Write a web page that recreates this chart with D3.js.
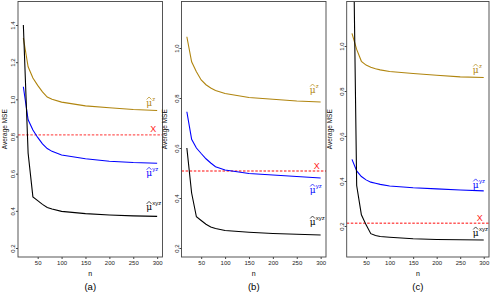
<!DOCTYPE html>
<html><head><meta charset="utf-8">
<script src="https://cdn.jsdelivr.net/npm/d3@7"></script>
<style>
body{margin:0;background:#fff}
text{font-family:"Liberation Sans",Arial,Helvetica,sans-serif}
</style>
</head><body>
<svg id="chart" width="491" height="293"></svg>
<script>
// ---------- data ----------
const nValues = [20, 30, 40, 50, 60, 70, 80, 100, 150, 200, 250, 300];
const xTicks = [50, 100, 150, 200, 250, 300];
const panelNames = ["(a)", "(b)", "(c)"];
const seriesNames = ["z", "yz", "xyz"];

const yTicksA = [0.2, 0.4, 0.6, 0.8, 1.0, 1.2, 1.4];
const yTicksB = [0.2, 0.4, 0.6, 0.8, 1.0];
const yTicksC = [0.2, 0.4, 0.6, 0.8, 1.0];

// panel (a)
const muZ_A   = [1.33, 1.175, 1.115, 1.075, 1.04, 1.012, 1.0, 0.985, 0.965, 0.955, 0.945, 0.94];
const muYZ_A  = [1.068, 0.89, 0.835, 0.795, 0.76, 0.735, 0.72, 0.70, 0.68, 0.667, 0.66, 0.656];
const muXYZ_A = [1.40, 0.71, 0.475, 0.455, 0.435, 0.418, 0.41, 0.397, 0.385, 0.378, 0.373, 0.37];
const refX_A  = 0.809;

// panel (b)
const muZ_B   = [1.045, 0.945, 0.905, 0.872, 0.853, 0.84, 0.83, 0.818, 0.802, 0.795, 0.788, 0.784];
const muYZ_B  = [0.745, 0.635, 0.60, 0.578, 0.557, 0.54, 0.525, 0.512, 0.498, 0.492, 0.486, 0.48];
const muXYZ_B = [0.60, 0.42, 0.325, 0.31, 0.295, 0.284, 0.278, 0.27, 0.263, 0.258, 0.255, 0.252];
const refX_B  = 0.508;

// panel (c)
const muZ_C   = [1.056, 0.985, 0.932, 0.915, 0.906, 0.899, 0.894, 0.887, 0.878, 0.87, 0.863, 0.86];
const muYZ_C  = [0.496, 0.445, 0.42, 0.405, 0.395, 0.39, 0.385, 0.378, 0.37, 0.365, 0.36, 0.356];
const muXYZ_C = [1.95, 0.38, 0.25, 0.205, 0.166, 0.158, 0.153, 0.15, 0.143, 0.14, 0.139, 0.138];
const refX_C  = 0.212;

// ---------- layout ----------
const colors = {z: "#B0850F", yz: "#0000FF", xyz: "#000000"};
const panels = [
  {name: panelNames[0], left: 18, right: 162.5, yDomain: [0.1516, 1.5265], yTicks: yTicksA,
   series: {z: muZ_A, yz: muYZ_A, xyz: muXYZ_A}, ref: refX_A,
   labelDy: {z: -4.5, yz: 13, xyz: -6}, ylabX: 5},
  {name: panelNames[1], left: 181.5, right: 326, yDomain: [0.164, 1.186], yTicks: yTicksB,
   series: {z: muZ_B, yz: muYZ_B, xyz: muXYZ_B}, ref: refX_B,
   labelDy: {z: -9, yz: 15, xyz: -10}, ylabX: 165},
  {name: panelNames[2], left: 346.7, right: 489, yDomain: [0.0622, 1.1978], yTicks: yTicksC,
   series: {z: muZ_C, yz: muYZ_C, xyz: muXYZ_C}, ref: refX_C,
   labelDy: {z: -4.5, yz: -3, xyz: -4}, ylabX: 330}
];
const plotTop = 1.5, plotBottom = 257;
const xDomain = [8.8, 311.2];

const svg = d3.select("#chart");
svg.append("rect").attr("width", 491).attr("height", 293).attr("fill", "#fff");

panels.forEach((p, pi) => {
  const x = d3.scaleLinear().domain(xDomain).range([p.left, p.right]);
  const y = d3.scaleLinear().domain(p.yDomain).range([plotBottom, plotTop]);
  const g = svg.append("g");

  const clipId = "clip" + pi;
  svg.append("clipPath").attr("id", clipId).append("rect")
    .attr("x", p.left).attr("y", plotTop).attr("width", p.right - p.left).attr("height", plotBottom - plotTop);

  // reference line
  g.append("line").attr("clip-path", `url(#${clipId})`)
    .attr("x1", p.left).attr("x2", p.right).attr("y1", y(p.ref)).attr("y2", y(p.ref))
    .attr("stroke", "#ff3333").attr("stroke-width", 1.4).attr("stroke-dasharray", "2.5,1.6")
    .attr("opacity", 0.8);

  // series lines
  const line = d3.line().x((d, i) => x(nValues[i])).y(d => y(d));
  seriesNames.forEach(s => {
    g.append("path").datum(p.series[s]).attr("clip-path", `url(#${clipId})`)
      .attr("d", line).attr("fill", "none").attr("stroke", colors[s]).attr("stroke-width", 1.1);
  });

  // series labels: hat(mu)^s
  const xEnd = x(nValues[nValues.length - 1]);
  seriesNames.forEach(s => {
    const vals = p.series[s];
    const base = y(vals[vals.length - 1]) + p.labelDy[s];
    const lx = xEnd - 11;
    const t = g.append("text").attr("x", lx).attr("y", base).attr("fill", colors[s])
      .style("font-family", "'DejaVu Serif', serif");
    t.append("tspan").attr("font-size", 9).text("\u03BC");
    t.append("tspan").attr("font-size", 6).attr("dy", -5).attr("dx", 0.3)
      .style("font-family", "'Liberation Sans', Arial, sans-serif").text(s);
    g.append("path")
      .attr("d", `M${lx + 0.5},${base - 6.5}L${lx + 2.9},${base - 9}L${lx + 5.3},${base - 6.5}`)
      .attr("fill", "none").attr("stroke", colors[s]).attr("stroke-width", 0.7);
  });

  // X mark
  g.append("text").attr("x", xEnd - 4).attr("y", y(p.ref) - 2.5).attr("text-anchor", "middle")
    .attr("fill", "#ff1a1a").attr("font-size", 9).text("X");

  // box
  g.append("rect").attr("x", p.left).attr("y", plotTop).attr("width", p.right - p.left)
    .attr("height", plotBottom - plotTop).attr("fill", "none").attr("stroke", "#444").attr("stroke-width", 0.9);

  // x axis
  const xa = g.append("g").attr("transform", `translate(0,${plotBottom})`)
    .call(d3.axisBottom(x).tickValues(xTicks).tickSize(2).tickPadding(2).tickFormat(d3.format("d")));
  xa.select(".domain").remove();
  xa.selectAll("line").attr("stroke", "#444");
  xa.selectAll("text").attr("font-size", 6).attr("fill", "#222")
    .style("font-family", "'Liberation Sans', Arial, sans-serif");

  // y axis
  const ya = g.append("g").attr("transform", `translate(${p.left},0)`)
    .call(d3.axisLeft(y).tickValues(p.yTicks).tickSize(2).tickFormat(d3.format(".1f")));
  ya.select(".domain").remove();
  ya.selectAll("line").attr("stroke", "#444");
  ya.selectAll("text").attr("font-size", 6).attr("fill", "#222")
    .attr("x", null).attr("dy", null).attr("text-anchor", "middle")
    .attr("transform", "translate(-3,0) rotate(-90)")
    .style("font-family", "'Liberation Sans', Arial, sans-serif");

  // axis titles
  g.append("text").attr("transform", `translate(${p.ylabX + 2.2},${(plotTop + plotBottom) / 2}) rotate(-90)`)
    .attr("text-anchor", "middle").attr("font-size", 6.5).attr("fill", "#111").text("Average MSE");
  g.append("text").attr("x", (p.left + p.right) / 2).attr("y", 275.5).attr("text-anchor", "middle")
    .attr("font-size", 7).attr("fill", "#000").text("n");
  g.append("text").attr("x", (p.left + p.right) / 2).attr("y", 290).attr("text-anchor", "middle")
    .attr("font-size", 9.5).attr("fill", "#000").text(p.name);
});
</script>
</body></html>
